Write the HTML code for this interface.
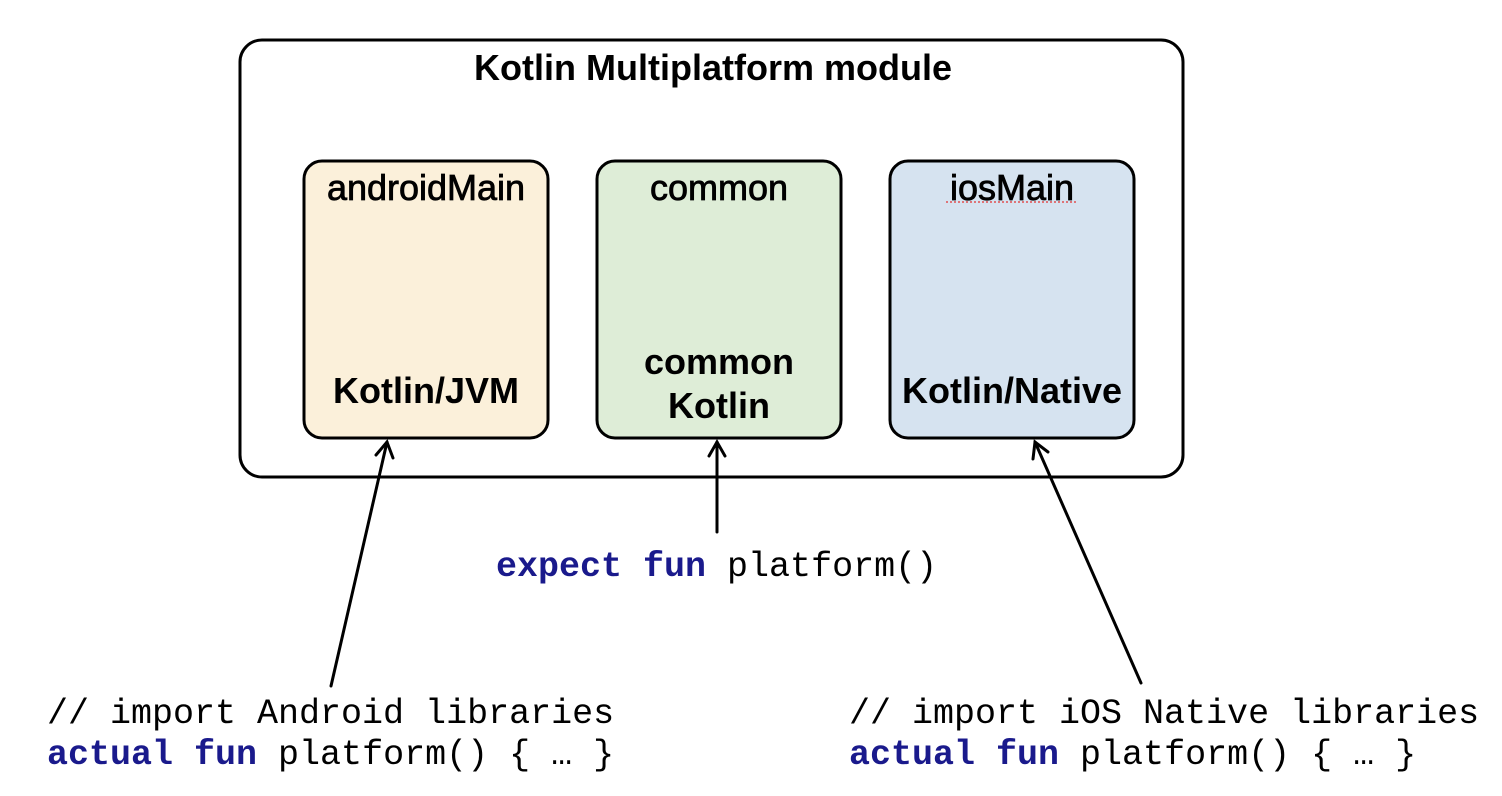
<!DOCTYPE html>
<html><head><meta charset="utf-8"><style>
html,body{margin:0;padding:0;background:#fff;}
svg{display:block}
.t{font-family:"Liberation Sans",Arial,sans-serif;text-anchor:middle;fill:#000}
.m{font-family:"Liberation Mono",monospace;font-size:35px;fill:#000}
.k{fill:#1a1a8c;font-weight:bold}
</style></head><body>
<svg width="1502" height="796" viewBox="0 0 1502 796" xmlns="http://www.w3.org/2000/svg">
<rect x="240" y="40" width="943" height="437" rx="22" fill="#fff" stroke="#000" stroke-width="3"/>
<text class="t" x="713" y="80" font-size="36" font-weight="bold">Kotlin Multiplatform module</text>

<rect x="304" y="161" width="244" height="277" rx="18" fill="#fbf0da" stroke="#000" stroke-width="3"/>
<rect x="597" y="161" width="244" height="277" rx="18" fill="#deedd7" stroke="#000" stroke-width="3"/>
<rect x="890" y="161" width="244" height="277" rx="18" fill="#d6e3f0" stroke="#000" stroke-width="3"/>

<g class="t" font-size="36" stroke="#000" stroke-width="0.8">
<text x="426" y="200">androidMain</text>
<text x="719" y="200">common</text>
<text x="1012" y="200">iosMain</text>
</g>
<line x1="946" y1="202" x2="1078" y2="202" stroke="#e05050" stroke-width="1.5" stroke-dasharray="2,2"/>
<g class="t" font-size="36" font-weight="bold">
<text x="426" y="403">Kotlin/JVM</text>
<text x="719" y="374">common</text>
<text x="719" y="418">Kotlin</text>
<text x="1012" y="403">Kotlin/Native</text>
</g>

<g stroke="#000" stroke-width="3" fill="none" stroke-linecap="round">
<line x1="331" y1="686" x2="387" y2="442"/>
<polyline points="376,455 387,442 393,458"/>
<line x1="717" y1="532" x2="717" y2="442"/>
<polyline points="709,456 717,442 725,456"/>
<line x1="1141" y1="683" x2="1035" y2="442"/>
<polyline points="1033,459 1035,442 1048,452"/>
</g>

<text class="m" x="496" y="576"><tspan class="k">expect fun</tspan> platform()</text>
<text class="m" x="47" y="723">// import Android libraries</text>
<text class="m" x="47" y="764"><tspan class="k">actual fun</tspan> platform() { … }</text>
<text class="m" x="849" y="723">// import iOS Native libraries</text>
<text class="m" x="849" y="764"><tspan class="k">actual fun</tspan> platform() { … }</text>
</svg>
</body></html>
